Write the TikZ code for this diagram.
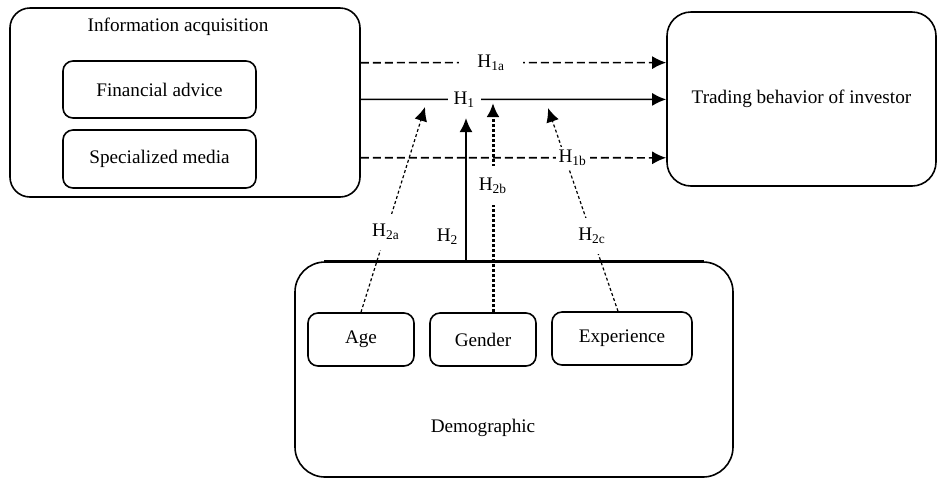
\documentclass[tikz,border=0pt]{standalone}
\usepackage{fontspec}
\setmainfont{Liberation Serif}
\usetikzlibrary{positioning,arrows.meta}

\begin{document}
\begin{tikzpicture}
        [x=0.5pt,y=-0.5pt,>={Latex[length=7pt,width=6.5pt]},
        every node/.style={font=\fontsize{9.6pt}{11pt}\selectfont},
        grp/.style={draw,line width=0.8pt,rounded corners=#1,inner sep=0pt},
        item/.style={draw,line width=0.8pt,rounded corners=5pt,inner sep=0pt,minimum height=26.5pt},
        hyp/.style={fill=white,inner sep=1.5pt},
        dsh/.style={->,line width=0.8pt,dash pattern=on 4pt off 2pt},
        dot/.style={->,line width=0.6pt,dash pattern=on 1.5pt off 1.2pt}]
        \useasboundingbox (0,0) rectangle (938,479);
        % information acquisition
        \node[grp=10pt,minimum width=175pt,minimum height=94.5pt] (info) at (185,102.5) {};
        \node (infot) at (178,27) {Information acquisition};
        \node[item,minimum width=96.5pt,minimum height=28.5pt] (fin) at (159.5,89.5) {Financial advice};
        \node[item,minimum width=96.5pt,minimum height=29pt] (med) at (159.5,159) {Specialized media};
        % trading behavior
        \node[grp=12pt,minimum width=134.5pt,minimum height=87pt] (trade) at (801.5,99) {Trading behavior of investor};
        % demographic
        \node[grp=15pt,minimum width=219pt,minimum height=107.5pt] (demo) at (514,369.5) {};
        \draw[line width=1.4pt] ([xshift=15pt]demo.north west) -- ([xshift=-15pt]demo.north east);
        \node (demot) at (483,428) {Demographic};
        \node[item,minimum width=53pt] (age) at (361,339.5) {Age};
        \node[item,minimum width=53pt] (gen) at (483,339.5) {Gender};
        \node[item,minimum width=70pt] (exp) at (622,338.5) {\raisebox{2.5pt}{Experience}};
        % arrow ends
        \coordinate (t2a) at (425,107);
        \coordinate (t2) at (466,118);
        \coordinate (t2b) at (493,103);
        \coordinate (t2c) at (548,108);
        % H2
        \draw[->,line width=1pt] ([xshift=-24pt]demo.north) -- node[left,pos=0.17]{H\textsubscript{2}} (t2);
        \draw[->,line width=1.5pt,dash pattern=on 1.5pt off 1pt] ([xshift=5pt]gen.north) -- node[hyp,pos=0.605,inner ysep=6pt]{H\textsubscript{2b}} (t2b);
        \draw[dot] (age.north) -- node[hyp,pos=0.39,inner ysep=5pt]{H\textsubscript{2a}} (t2a);
        \draw[dot] ([xshift=-2pt]exp.north) -- node[hyp,pos=0.37,inner ysep=5pt]{H\textsubscript{2c}} (t2c);
        % H1
        \draw[dsh] ([yshift=19.9pt]info.east) -- node[hyp,pos=0.427,inner xsep=9pt]{H\textsubscript{1a}} ([yshift=18.2pt]trade.west);
        \draw[->,line width=0.8pt] ([yshift=1.6pt]info.east) -- node[hyp,pos=0.339,inner xsep=3pt]{H\textsubscript{1}} ([yshift=-0.2pt]trade.west);
        \draw[dsh] ([yshift=-27.6pt]info.east) -- node[hyp,pos=0.694]{H\textsubscript{1b}} ([yshift=-29.4pt]trade.west);
    \end{tikzpicture}
\end{document}
